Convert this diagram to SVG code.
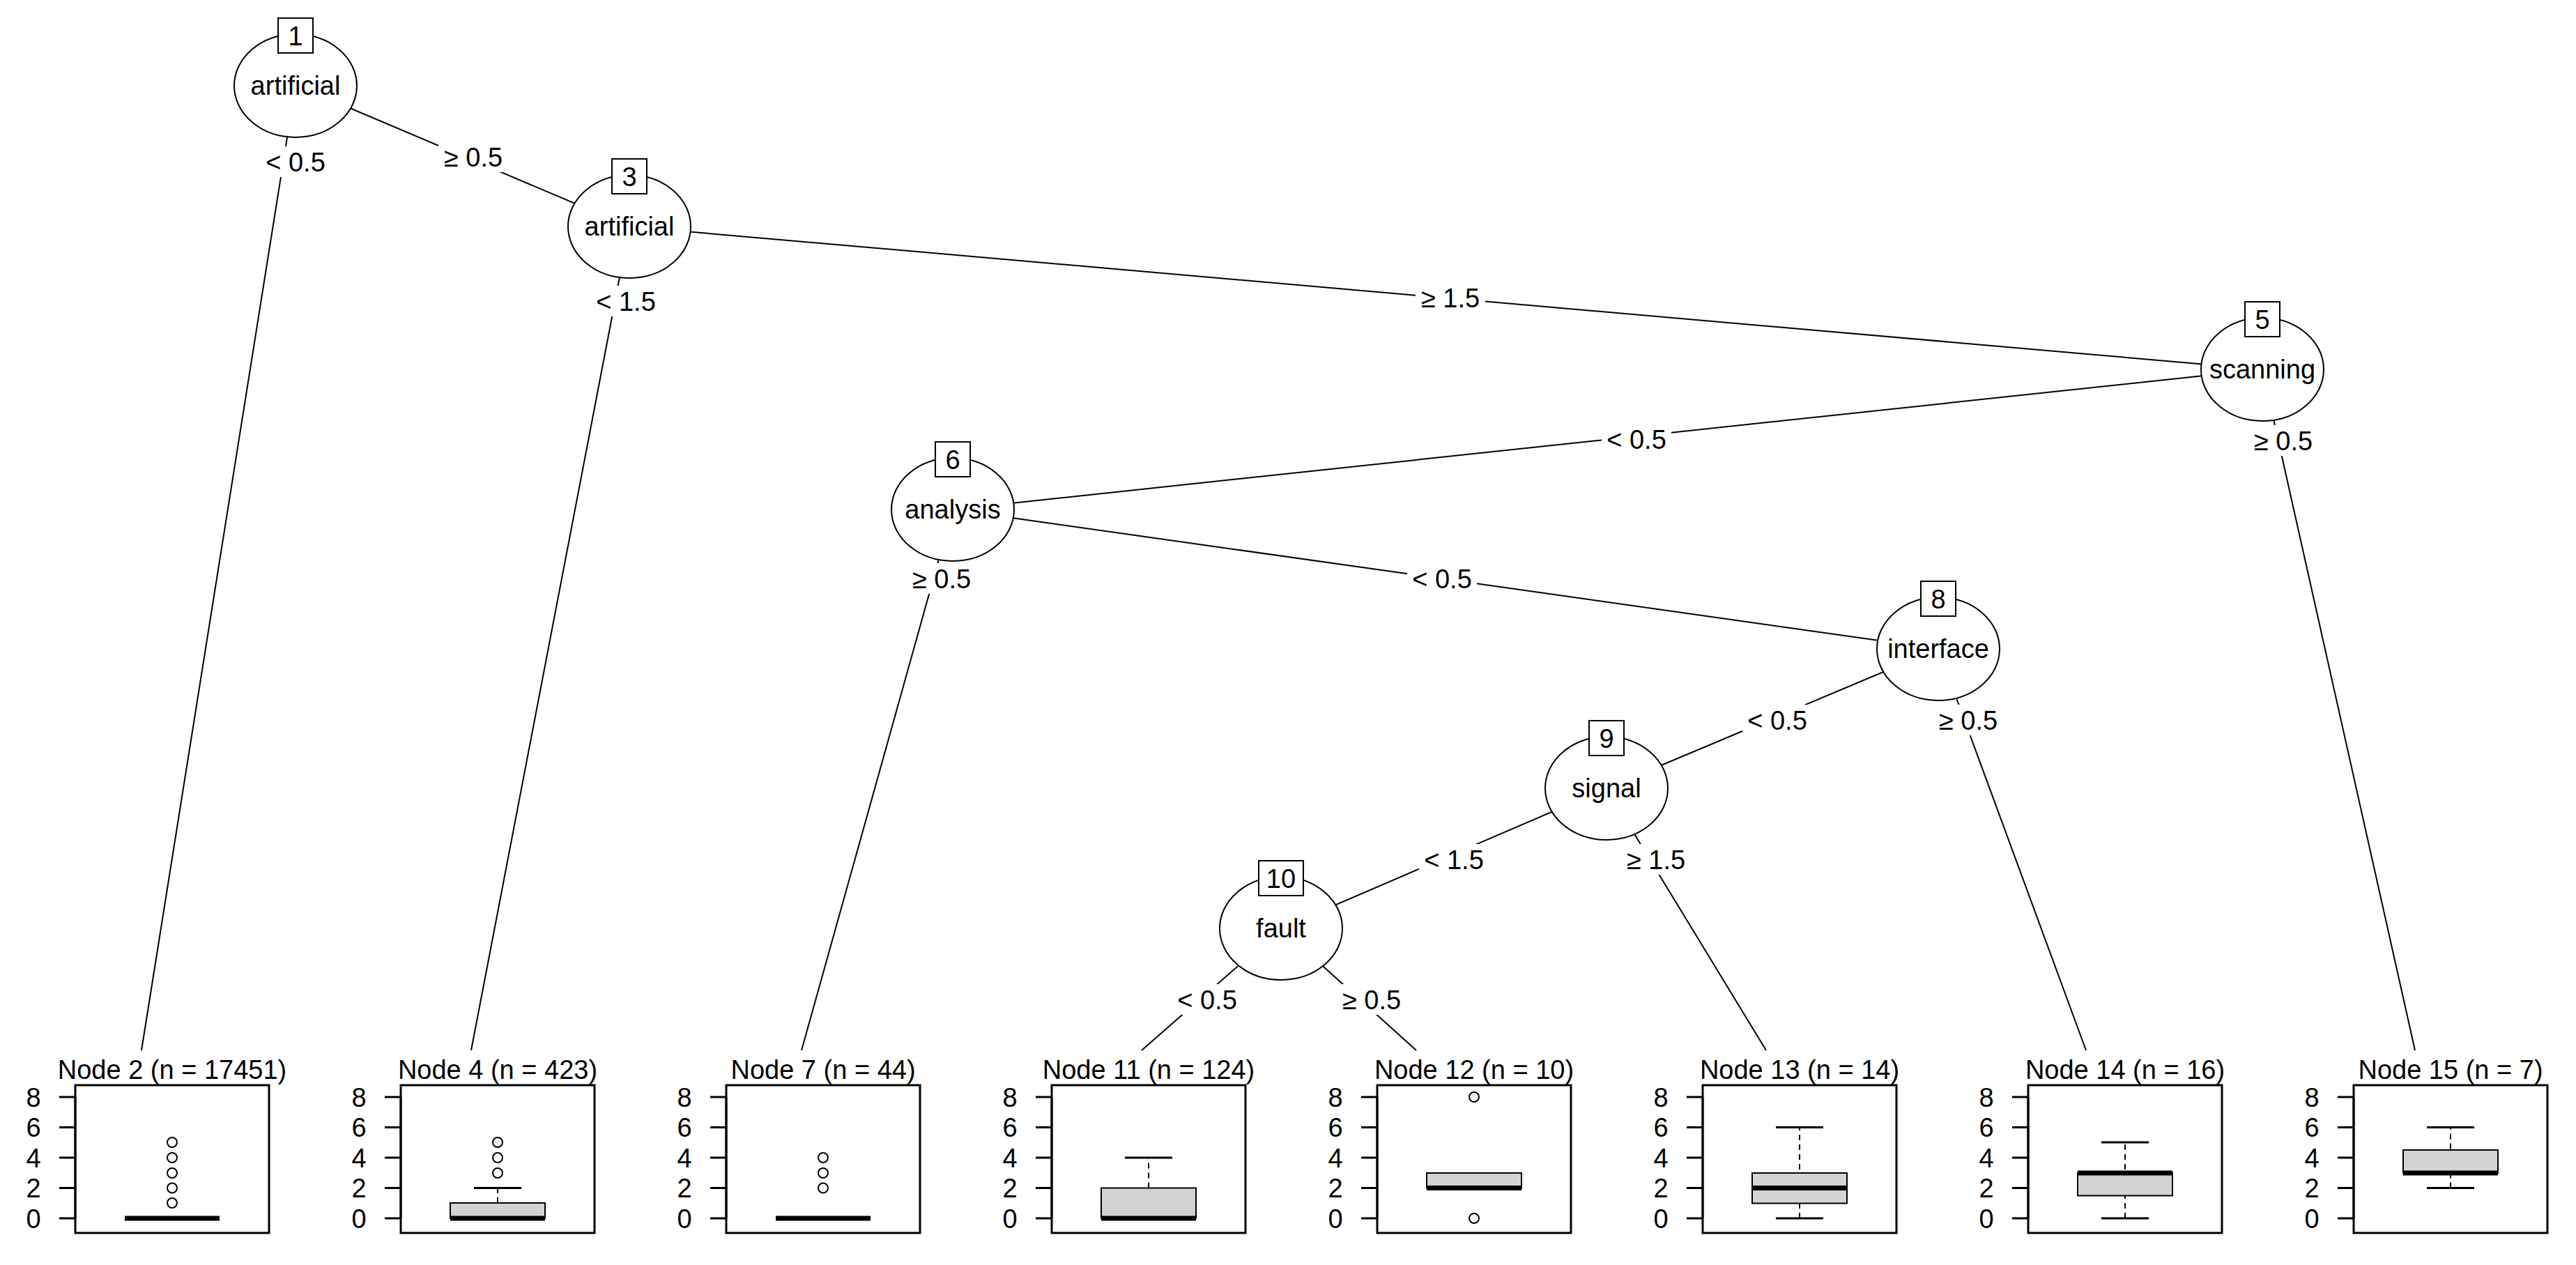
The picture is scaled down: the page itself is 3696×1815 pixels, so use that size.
<svg xmlns="http://www.w3.org/2000/svg" width="3696" height="1815" viewBox="0 0 3696 1815">
<style>
text{font-family:"Liberation Sans",Arial,sans-serif;font-size:38px;fill:#000}
.n ellipse{fill:#fff;stroke:#000;stroke-width:2}
.n rect{fill:#fff;stroke:#000;stroke-width:2}
.c line{stroke:#000;stroke-width:2}
.lb{fill:#fff}
.frame{fill:none;stroke:#000;stroke-width:3}
.bx{fill:#d3d3d3;stroke:#000;stroke-width:2}
.med{stroke:#000;stroke-width:7}
.wh{stroke:#000;stroke-width:2;stroke-dasharray:8 6}
.cap{stroke:#000;stroke-width:3}
.out{fill:none;stroke:#000;stroke-width:2}
.tk{stroke:#000;stroke-width:3}
</style>
<g id="connectors" class="c">
<line x1="424" y1="122" x2="203" y2="1507"/>
<line x1="424" y1="122" x2="903" y2="325"/>
<line x1="903" y1="325" x2="676" y2="1507"/>
<line x1="903" y1="325" x2="3246" y2="530"/>
<line x1="3246" y1="530" x2="1367" y2="731"/>
<line x1="3246" y1="530" x2="3465" y2="1507"/>
<line x1="1367" y1="731" x2="1150" y2="1507"/>
<line x1="1367" y1="731" x2="2781" y2="931"/>
<line x1="2781" y1="931" x2="2305" y2="1131"/>
<line x1="2781" y1="931" x2="2993" y2="1507"/>
<line x1="2305" y1="1131" x2="1838" y2="1332"/>
<line x1="2305" y1="1131" x2="2534" y2="1507"/>
<line x1="1838" y1="1332" x2="1638" y2="1507"/>
<line x1="1838" y1="1332" x2="2032" y2="1507"/>
<g text-anchor="middle">
<rect class="lb" x="374" y="210" width="100" height="44"/><text x="424" y="246">&lt; 0.5</text>
<rect class="lb" x="629" y="203" width="100" height="44"/><text x="679" y="239">≥ 0.5</text>
<rect class="lb" x="848" y="410" width="100" height="44"/><text x="898" y="446">&lt; 1.5</text>
<rect class="lb" x="2031" y="405" width="100" height="44"/><text x="2081" y="441">≥ 1.5</text>
<rect class="lb" x="2298" y="608" width="100" height="44"/><text x="2348" y="644">&lt; 0.5</text>
<rect class="lb" x="3226" y="610" width="100" height="44"/><text x="3276" y="646">≥ 0.5</text>
<rect class="lb" x="1301" y="808" width="100" height="44"/><text x="1351" y="844">≥ 0.5</text>
<rect class="lb" x="2019" y="808" width="100" height="44"/><text x="2069" y="844">&lt; 0.5</text>
<rect class="lb" x="2500" y="1011" width="100" height="44"/><text x="2550" y="1047">&lt; 0.5</text>
<rect class="lb" x="2774" y="1011" width="100" height="44"/><text x="2824" y="1047">≥ 0.5</text>
<rect class="lb" x="2036" y="1211" width="100" height="44"/><text x="2086" y="1247">&lt; 1.5</text>
<rect class="lb" x="2326" y="1211" width="100" height="44"/><text x="2376" y="1247">≥ 1.5</text>
<rect class="lb" x="1682" y="1412" width="100" height="44"/><text x="1732" y="1448">&lt; 0.5</text>
<rect class="lb" x="1918" y="1412" width="100" height="44"/><text x="1968" y="1448">≥ 0.5</text>
</g>
</g>
<g text-anchor="middle">
<g id="node1" class="n"><ellipse cx="424" cy="123" rx="88" ry="74"/><rect x="399" y="26" width="50" height="50"/><text x="424" y="65">1</text><text x="424" y="136">artificial</text></g>
<g id="node3" class="n"><ellipse cx="903" cy="325" rx="88" ry="74"/><rect x="878" y="228" width="50" height="50"/><text x="903" y="267">3</text><text x="903" y="338">artificial</text></g>
<g id="node5" class="n"><ellipse cx="3246" cy="530" rx="88" ry="74"/><rect x="3221" y="433" width="50" height="50"/><text x="3246" y="472">5</text><text x="3246" y="543">scanning</text></g>
<g id="node6" class="n"><ellipse cx="1367" cy="731" rx="88" ry="74"/><rect x="1342" y="634" width="50" height="50"/><text x="1367" y="673">6</text><text x="1367" y="744">analysis</text></g>
<g id="node8" class="n"><ellipse cx="2781" cy="931" rx="88" ry="74"/><rect x="2756" y="834" width="50" height="50"/><text x="2781" y="873">8</text><text x="2781" y="944">interface</text></g>
<g id="node9" class="n"><ellipse cx="2305" cy="1131" rx="88" ry="74"/><rect x="2280" y="1034" width="50" height="50"/><text x="2305" y="1073">9</text><text x="2305" y="1144">signal</text></g>
<g id="node10" class="n"><ellipse cx="1838" cy="1332" rx="88" ry="74"/><rect x="1806" y="1235" width="64" height="50"/><text x="1838" y="1274">10</text><text x="1838" y="1345">fault</text></g>
</g>
<defs>
<g id="axis">
<line class="tk" x1="0" y1="1574" x2="0" y2="1748"/>
<line class="tk" x1="-23" y1="1748" x2="0" y2="1748"/><line class="tk" x1="-23" y1="1704.5" x2="0" y2="1704.5"/>
<line class="tk" x1="-23" y1="1661" x2="0" y2="1661"/><line class="tk" x1="-23" y1="1617.5" x2="0" y2="1617.5"/>
<line class="tk" x1="-23" y1="1574" x2="0" y2="1574"/>
<g text-anchor="middle"><text x="-60" y="1762">0</text><text x="-60" y="1718">2</text><text x="-60" y="1675">4</text><text x="-60" y="1631">6</text><text x="-60" y="1588">8</text></g>
<rect class="frame" x="0" y="1557" width="278" height="212"/>
</g>
</defs>
<g id="node2" transform="translate(108,0)"><use href="#axis"/><text x="139" y="1548" text-anchor="middle">Node 2 (n = 17451)</text>
<line class="med" x1="71" y1="1748" x2="207" y2="1748"/>
<circle class="out" cx="139" cy="1726" r="7"/><circle class="out" cx="139" cy="1704.5" r="7"/><circle class="out" cx="139" cy="1683" r="7"/><circle class="out" cx="139" cy="1661" r="7"/><circle class="out" cx="139" cy="1639" r="7"/></g>
<g id="node4" transform="translate(575,0)"><use href="#axis"/><text x="139" y="1548" text-anchor="middle">Node 4 (n = 423)</text>
<line class="wh" x1="139" y1="1726" x2="139" y2="1704.5"/><line class="cap" x1="105" y1="1704.5" x2="173" y2="1704.5"/>
<rect class="bx" x="71" y="1726" width="136" height="22"/><line class="med" x1="71" y1="1748" x2="207" y2="1748"/>
<circle class="out" cx="139" cy="1683" r="7"/><circle class="out" cx="139" cy="1661" r="7"/><circle class="out" cx="139" cy="1639" r="7"/></g>
<g id="node7" transform="translate(1042,0)"><use href="#axis"/><text x="139" y="1548" text-anchor="middle">Node 7 (n = 44)</text>
<line class="med" x1="71" y1="1748" x2="207" y2="1748"/>
<circle class="out" cx="139" cy="1704.5" r="7"/><circle class="out" cx="139" cy="1683" r="7"/><circle class="out" cx="139" cy="1661" r="7"/></g>
<g id="node11" transform="translate(1509,0)"><use href="#axis"/><text x="139" y="1548" text-anchor="middle">Node 11 (n = 124)</text>
<line class="wh" x1="139" y1="1704.5" x2="139" y2="1661"/><line class="cap" x1="105" y1="1661" x2="173" y2="1661"/>
<rect class="bx" x="71" y="1704.5" width="136" height="43.5"/><line class="med" x1="71" y1="1748" x2="207" y2="1748"/></g>
<g id="node12" transform="translate(1976,0)"><use href="#axis"/><text x="139" y="1548" text-anchor="middle">Node 12 (n = 10)</text>
<rect class="bx" x="71" y="1683" width="136" height="21.5"/><line class="med" x1="71" y1="1704.5" x2="207" y2="1704.5"/>
<circle class="out" cx="139" cy="1748" r="7"/><circle class="out" cx="139" cy="1574" r="7"/></g>
<g id="node13" transform="translate(2443,0)"><use href="#axis"/><text x="139" y="1548" text-anchor="middle">Node 13 (n = 14)</text>
<line class="wh" x1="139" y1="1748" x2="139" y2="1617.5"/><line class="cap" x1="105" y1="1748" x2="173" y2="1748"/><line class="cap" x1="105" y1="1617.5" x2="173" y2="1617.5"/>
<rect class="bx" x="71" y="1683" width="136" height="43.5"/><line class="med" x1="71" y1="1704.5" x2="207" y2="1704.5"/></g>
<g id="node14" transform="translate(2910,0)"><use href="#axis"/><text x="139" y="1548" text-anchor="middle">Node 14 (n = 16)</text>
<line class="wh" x1="139" y1="1748" x2="139" y2="1639"/><line class="cap" x1="105" y1="1748" x2="173" y2="1748"/><line class="cap" x1="105" y1="1639" x2="173" y2="1639"/>
<rect class="bx" x="71" y="1683" width="136" height="32.5"/><line class="med" x1="71" y1="1683" x2="207" y2="1683"/></g>
<g id="node15" transform="translate(3377,0)"><use href="#axis"/><text x="139" y="1548" text-anchor="middle">Node 15 (n = 7)</text>
<line class="wh" x1="139" y1="1704.5" x2="139" y2="1617.5"/><line class="cap" x1="105" y1="1704.5" x2="173" y2="1704.5"/><line class="cap" x1="105" y1="1617.5" x2="173" y2="1617.5"/>
<rect class="bx" x="71" y="1650" width="136" height="33"/><line class="med" x1="71" y1="1683" x2="207" y2="1683"/></g>
</svg>
